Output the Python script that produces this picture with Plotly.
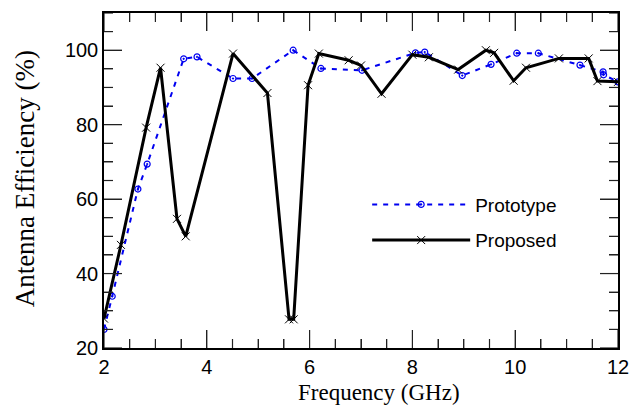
import plotly.graph_objects as go

# Data
proto_freq = [2.0, 2.16, 2.66, 2.84, 3.55, 3.81, 4.51, 4.88, 5.68, 6.22, 7.02,
              8.06, 8.24, 8.97, 9.53, 10.03, 10.45, 11.26, 11.71, 11.72, 12.0]
proto_eff = [25.0, 33.9, 62.7, 69.4, 97.7, 98.2, 92.4, 92.4, 100.0, 95.1, 94.6,
             99.3, 99.5, 93.2, 96.2, 99.2, 99.2, 96.0, 94.2, 93.4, 91.5]

prop_freq = [2.0, 2.33, 2.82, 3.10, 3.42, 3.59, 4.51, 5.18, 5.60, 5.69, 5.97,
             6.18, 6.76, 7.0, 7.40, 8.0, 8.32, 8.89, 9.43, 9.59, 9.97, 10.21,
             10.85, 11.43, 11.60, 12.0]
prop_eff = [27.9, 47.7, 79.2, 95.3, 54.7, 50.0, 99.1, 88.5, 27.7, 27.7, 90.6,
            99.1, 97.3, 95.9, 88.3, 98.8, 98.1, 94.8, 100.0, 99.3, 91.8, 95.3,
            97.8, 97.8, 91.7, 91.5]

series_names = ["Prototype", "Proposed"]

x_range = [2, 12]
y_range = [20, 110]
x_major_step, x_minor_step = 2, 0.5
y_major_step, y_minor_step = 20, 5

BLUE = "#0000f0"
TICK_COLOR = "#222"
MAJOR_LEN, MINOR_LEN = 18, 9          # px
PLOT_W, PLOT_H = 514, 337              # px, plot area size

fig = go.Figure()
fig.add_trace(go.Scatter(
    x=proto_freq, y=proto_eff, name=series_names[0], mode="lines+markers",
    legendgroup="a",
    line=dict(color=BLUE, width=2, dash="5px,6px"),
    marker=dict(symbol="circle-open-dot", size=6, color=BLUE,
                line=dict(width=1.2, color=BLUE)),
))
fig.add_trace(go.Scatter(
    x=prop_freq, y=prop_eff, name=series_names[1], mode="lines+markers",
    legendgroup="b",
    line=dict(color="black", width=3),
    marker=dict(symbol="x-thin-open", size=8, color="black",
                line=dict(width=1, color="black")),
))

axis_common = dict(
    showline=True, linecolor="black", linewidth=1.5, mirror="allticks",
    ticks="inside", ticklen=MAJOR_LEN, tickwidth=1.2, tickcolor=TICK_COLOR,
    layer="above traces", showgrid=False, zeroline=False,
    tickfont=dict(family="Liberation Sans, Arial", size=20, color="black"),
)
fig.update_xaxes(range=x_range, tickmode="linear", tick0=x_range[0],
                 dtick=x_major_step,
                 minor=dict(ticks="inside", ticklen=MINOR_LEN, dtick=x_minor_step,
                            tickwidth=1.2, tickcolor=TICK_COLOR),
                 **axis_common)
fig.update_yaxes(range=y_range, tickmode="linear", tick0=y_range[0],
                 dtick=y_major_step,
                 minor=dict(ticks="inside", ticklen=MINOR_LEN, dtick=y_minor_step,
                            tickwidth=1.2, tickcolor=TICK_COLOR),
                 **axis_common)

# Inside ticks on all four sides, also drawn as axis decorations
def tick_positions(lo, hi, step):
    n = int(round((hi - lo) / step))
    return [lo + i * step for i in range(n + 1)]

tick_line = dict(color=TICK_COLOR, width=1.2)
for xv in tick_positions(x_range[0], x_range[1], x_minor_step):
    k = (xv - x_range[0]) / x_major_step
    frac = (MAJOR_LEN if abs(k - round(k)) < 1e-9 else MINOR_LEN) / PLOT_H
    fig.add_shape(type="line", xref="x", yref="paper", x0=xv, x1=xv,
                  y0=0, y1=frac, line=tick_line, layer="above")
    fig.add_shape(type="line", xref="x", yref="paper", x0=xv, x1=xv,
                  y0=1, y1=1 - frac, line=tick_line, layer="above")
for yv in tick_positions(y_range[0], y_range[1], y_minor_step):
    k = (yv - y_range[0]) / y_major_step
    frac = (MAJOR_LEN if abs(k - round(k)) < 1e-9 else MINOR_LEN) / PLOT_W
    fig.add_shape(type="line", xref="paper", yref="y", x0=0, x1=frac,
                  y0=yv, y1=yv, line=tick_line, layer="above")
    fig.add_shape(type="line", xref="paper", yref="y", x0=1, x1=1 - frac,
                  y0=yv, y1=yv, line=tick_line, layer="above")

fig.add_annotation(
    text="Frequency (GHz)", xref="paper", yref="paper",
    x=0.535, y=-0.134, showarrow=False, xanchor="center", yanchor="middle",
    font=dict(family="Liberation Serif, Times New Roman", size=23, color="black"),
)
fig.add_annotation(
    text="Antenna Efficiency (%)", xref="paper", yref="paper",
    x=-0.152, y=0.506, showarrow=False, xanchor="center", yanchor="middle",
    textangle=-90,
    font=dict(family="Liberation Serif, Times New Roman", size=27, color="black"),
)

# The page body adds an 8px offset, so the figure is sized to fit the window.
fig.update_layout(
    width=636, height=409,
    margin=dict(l=96, r=26, t=3, b=69),
    plot_bgcolor="rgba(0,0,0,0)", paper_bgcolor="white",
    showlegend=True,
    legend=dict(
        x=0.512, y=0.485, xanchor="left", yanchor="top",
        bgcolor="rgba(0,0,0,0)", itemwidth=98, traceorder="grouped",
        tracegroupgap=8,
        font=dict(family="Liberation Sans, Arial", size=19, color="black"),
    ),
)

fig.write_html("out.html")
